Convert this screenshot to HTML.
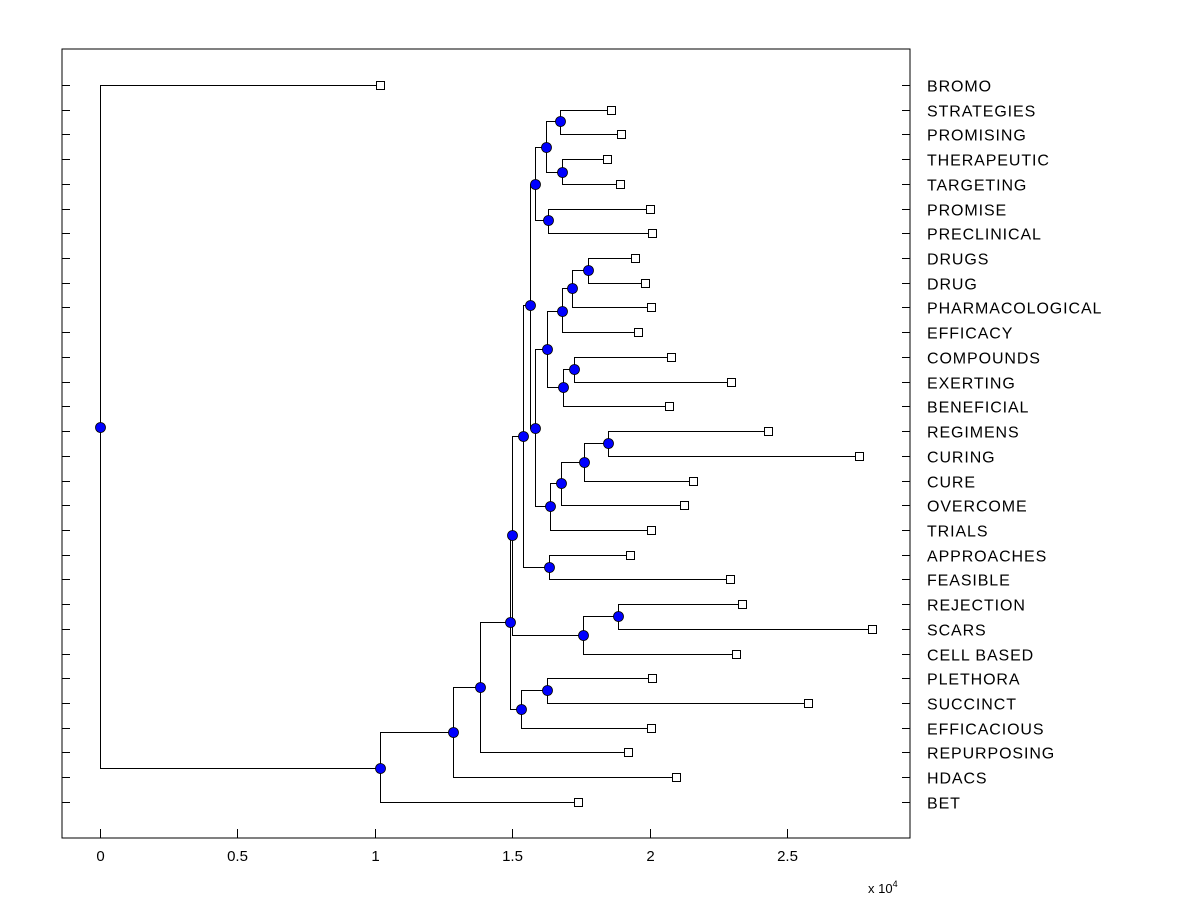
<!DOCTYPE html>
<html><head><meta charset="utf-8"><style>
html,body{margin:0;padding:0;background:#fff;}
svg{display:block;font-family:"Liberation Sans",sans-serif;}
</style></head><body>
<svg id="chart" width="1200" height="900" viewBox="0 0 1200 900" xmlns="http://www.w3.org/2000/svg" shape-rendering="crispEdges">
<rect x="0" y="0" width="1200" height="900" fill="#fff"/>
<g id="ticks"></g>
<g id="links"></g>
<g id="marks"></g>
<g id="labels"></g>
<rect x="62" y="49" width="848" height="789" fill="none" stroke="#000" stroke-width="1"/>
<text x="868" y="893" font-size="13">x 10<tspan dy="-6" font-size="9">4</tspan></text>
</svg>
<script>
// Leaves (top to bottom), their distance (x 10^4) and parent node
const leafNames = ["BROMO","STRATEGIES","PROMISING","THERAPEUTIC","TARGETING","PROMISE","PRECLINICAL","DRUGS","DRUG","PHARMACOLOGICAL","EFFICACY","COMPOUNDS","EXERTING","BENEFICIAL","REGIMENS","CURING","CURE","OVERCOME","TRIALS","APPROACHES","FEASIBLE","REJECTION","SCARS","CELL BASED","PLETHORA","SUCCINCT","EFFICACIOUS","REPURPOSING","HDACS","BET"];
const leafDist = [1.019,1.86,1.896,1.845,1.892,2.001,2.009,1.947,1.983,2.005,1.958,2.078,2.296,2.071,2.431,2.762,2.158,2.125,2.005,1.929,2.293,2.336,2.809,2.314,2.009,2.576,2.005,1.921,2.096,1.739];
const leafParent = ["root","A","A","B","B","D","D","G","G","H","I","J","J","K","N","N","O","Q1","Q","Y","Y","Z","Z","CELL","T1","T1","T","U","V","W"];
// Internal nodes
const nodeIds = ["root","W","V","U","S","R","M","F","E","C","A","B","D","P","L","I","H","G","K","J","Q","Q1","O","N","Y","CELL","Z","T","T1"];
const nodeDist = [0,1.019,1.285,1.383,1.492,1.499,1.539,1.565,1.583,1.623,1.674,1.681,1.630,1.583,1.627,1.681,1.718,1.776,1.685,1.725,1.638,1.678,1.761,1.849,1.634,1.758,1.885,1.532,1.627];
const nodeRow = [13.83,27.63,26.17,24.35,21.72,18.2,14.2,8.9,4.0,2.5,1.46,3.52,5.46,13.88,10.68,9.14,8.21,7.48,12.22,11.49,17.03,16.1,15.25,14.48,19.5,22.25,21.48,25.24,24.47];
const nodeParent = [null,"root","W","V","U","S","R","M","F","E","C","C","E","F","P","L","I","H","L","K","P","Q","Q1","O","M","R","CELL","S","T"];
const xTickValues = [0,0.5,1,1.5,2,2.5];
const xTickLabels = ["0","0.5","1","1.5","2","2.5"];

const NS="http://www.w3.org/2000/svg";
const X0=100, XS=274.8, Y0=85, YS=24.72;
const xs=v=>X0+v*XS, ys=r=>Y0+r*YS;
function mk(tag,attrs,parent){const e=document.createElementNS(NS,tag);for(const k in attrs)e.setAttribute(k,attrs[k]);parent.appendChild(e);return e;}
const gT=document.getElementById('ticks'),gL=document.getElementById('links'),gM=document.getElementById('marks'),gLab=document.getElementById('labels');
const pos={};
nodeIds.forEach((id,i)=>{pos[id]=[xs(nodeDist[i]),ys(nodeRow[i])];});
leafNames.forEach((n,i)=>{
  const y=Math.round(ys(i))+0.5;
  const t1=mk('line',{x1:62,y1:y,x2:70,y2:y,stroke:'#000'},gT);
  
  
  const t2=mk('line',{x1:902,y1:y,x2:910,y2:y,stroke:'#000'},gT);
  
  
  const lb=mk('text',{x:927,y:y+6,'font-size':16,'letter-spacing':'0.9','shape-rendering':'auto'},gLab);
  lb.textContent=n;
  
  
});
xTickValues.forEach((v,i)=>{
  const x=Math.round(xs(v))+0.5;
  const t=mk('line',{x1:x,y1:829,x2:x,y2:838,stroke:'#000'},gT);
  
  
  const lb=mk('text',{x:x,y:861,'font-size':15,'text-anchor':'middle'},gT);
  lb.textContent=xTickLabels[i];
  
  
});
const snap=v=>Math.round(v)+0.5;
function link(p,cx,cy){
  const px=snap(pos[p][0]),py=snap(pos[p][1]);
  const e=mk('path',{d:`M${px},${py}V${snap(cy)}H${snap(cx)}`,fill:'none',stroke:'#000','stroke-width':1},gL);
  
  
}
nodeIds.forEach((id,i)=>{if(nodeParent[i])link(nodeParent[i],pos[id][0],pos[id][1]);});
leafNames.forEach((n,i)=>link(leafParent[i],xs(leafDist[i]),ys(i)));
leafNames.forEach((n,i)=>{
  const r=mk('rect',{x:snap(xs(leafDist[i]))-4,y:snap(ys(i))-4,width:8,height:8,fill:'#fff',stroke:'#000'},gM);
  
  
});
nodeIds.forEach((id)=>{
  const c=mk('circle',{cx:snap(pos[id][0]),cy:snap(pos[id][1]),r:5,fill:'#0000ff',stroke:'#000','stroke-width':0.8,'shape-rendering':'auto'},gM);
  
  
});
</script>
</body></html>
